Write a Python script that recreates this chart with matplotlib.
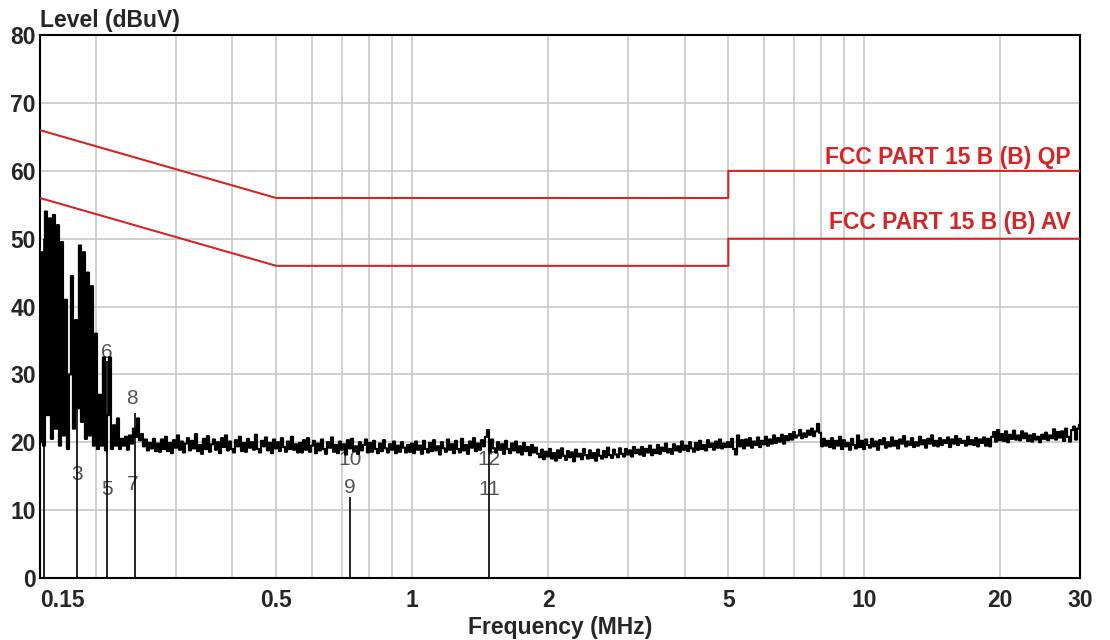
import numpy as np
import matplotlib
matplotlib.use("Agg")
import matplotlib.pyplot as plt
from matplotlib.transforms import blended_transform_factory

plt.rcParams['font.family'] = ['Liberation Sans', 'DejaVu Sans']

# Messkurve (dBuV), log-Sweep 0.15 - 30 MHz
lvl_spikes = [20.0, 48.0, 19.5, 54.0, 24.0, 53.0, 20.5, 53.5, 22.0, 52.0,
              19.5, 49.5, 21.0, 41.0, 19.0, 30.0, 44.5, 22.0, 38.0, 25.0,
              49.0, 23.0, 48.0, 20.5, 45.0, 21.0, 43.0, 19.5, 36.0, 19.0,
              27.0, 19.5, 32.5, 18.8, 24.0, 32.5, 19.0, 22.5, 19.5, 23.5,
              19.0, 20.5, 19.5, 20.8, 18.9, 21.0, 19.8, 22.0, 20.8, 23.5,
              20.3, 21.2, 19.4, 20.4, 18.8, 19.9, 19.1, 20.5, 18.7, 19.8]
lvl_030 = [18.6, 20.4, 19.0, 20.8, 18.7, 19.9, 18.4, 20.3, 19.2, 21.0,
           18.9, 20.1, 18.5, 19.8, 20.6, 18.8, 20.2, 19.1, 21.2, 18.7,
           19.6, 18.3, 20.5, 19.0, 20.9, 18.6, 19.7, 20.4, 18.9, 20.0,
           18.4, 20.6, 19.3, 21.0, 18.8, 20.1, 19.0, 18.5, 20.3, 19.4,
           20.8, 18.7, 19.9, 18.6, 20.5, 19.2, 20.0, 18.9, 21.1, 19.0,
           18.5, 20.2, 19.4, 20.7, 18.8, 19.9, 18.4, 20.4, 19.1, 20.0,
           18.7, 20.6, 19.3, 18.6, 20.1, 19.0, 20.8, 18.9, 19.7, 18.5]
lvl_050 = [19.9, 18.5, 20.3, 18.9, 20.6, 18.6, 19.5, 20.2, 18.4, 19.8,
           18.8, 20.4, 19.0, 18.3, 20.0, 19.2, 20.7, 18.6, 19.6, 18.4,
           20.1, 18.9, 19.7, 18.2, 20.3, 19.1, 20.5, 18.7, 19.4, 18.3,
           20.0, 18.8, 19.6, 20.4, 18.5, 19.9, 18.6, 20.2, 19.0, 18.4,
           19.8, 18.7, 20.3, 19.1, 18.5, 19.7, 18.9, 20.1, 18.4, 19.5,
           18.6, 20.0, 19.2, 18.5, 19.6]
lvl_100 = [18.6, 19.8, 18.4, 20.1, 18.9, 19.5, 18.3, 20.2, 19.0, 18.5,
           19.9, 18.7, 20.3, 18.8, 19.4, 18.2, 20.0, 19.1, 18.6, 20.4,
           18.9, 19.7, 18.4, 20.2, 19.0, 18.5, 20.5, 18.8, 19.6, 18.3,
           20.1, 19.2, 20.6, 18.7, 19.8, 18.9, 20.3, 19.4, 20.8, 21.8,
           18.6, 20.4, 19.1, 18.5, 20.0, 18.9, 19.7, 18.3, 20.2, 19.0,
           18.4, 19.8, 18.8, 20.1, 18.5, 19.4, 18.2, 19.9, 18.7, 19.3,
           18.1, 19.6, 18.5, 19.2, 18.3]
lvl_200 = [17.8, 18.9, 17.5, 18.6, 17.9, 19.0, 17.6, 18.4, 17.3, 18.8,
           17.7, 19.1, 18.0, 17.4, 18.7, 17.8, 18.5, 17.2, 18.9, 17.9,
           18.3, 17.5, 19.0, 18.1, 17.6, 18.8, 17.7, 18.4, 17.3, 18.9,
           18.0, 17.6, 18.7, 17.8, 19.2, 18.1, 17.7, 18.9, 18.2, 17.8,
           19.1, 18.3, 17.9, 19.0, 18.2, 18.8, 17.9, 19.3, 18.4, 18.9]
lvl_320 = [18.2, 19.3, 18.0, 19.0, 18.5, 19.5, 18.1, 18.9, 18.4, 19.6,
           18.3, 19.2, 18.7, 19.8, 18.5, 19.0, 18.3, 19.7, 18.8, 19.4,
           18.6, 20.1, 18.9, 19.5, 18.7, 20.0, 19.1, 18.6, 19.9, 18.9,
           20.2, 19.0, 19.6, 18.8, 20.3, 19.3, 19.8, 18.9, 20.1, 19.2,
           20.4, 19.1, 19.8, 19.3, 20.0]
lvl_500 = [19.3, 20.5, 19.0, 18.2, 21.0, 19.4, 20.3, 19.1, 20.4, 19.5,
           20.6, 19.2, 20.1, 19.6, 20.7, 19.3, 20.2, 19.7, 20.8, 19.5,
           20.4, 19.8, 21.0, 19.9, 20.6, 20.1, 21.1, 19.8, 20.9, 20.3]
lvl_700 = [21.2, 20.4, 21.5, 20.7, 21.0, 21.8, 20.6, 21.3, 20.8, 21.7,
           21.1, 22.0, 20.9, 21.6, 22.7, 21.4, 19.4, 20.5, 19.5, 20.2]
lvl_850 = [19.3, 20.6, 19.1, 20.2, 19.5, 20.8, 19.0, 20.3, 19.4, 19.9,
           18.9, 20.5, 19.6, 19.1, 21.0, 19.3, 20.2, 19.0, 20.4, 19.6,
           19.2, 20.5, 19.4, 20.1, 18.9, 20.3, 19.7, 20.6, 19.2, 20.0,
           19.4, 20.7, 19.5, 20.2, 19.1, 20.4, 19.8, 20.9, 19.4, 20.1,
           19.6, 20.6, 19.3, 20.0, 19.5, 20.8, 19.7, 20.3, 19.2, 20.5,
           19.8, 21.0, 19.5, 20.2, 19.4, 20.6, 19.6, 20.3, 19.9, 20.7,
           19.3, 20.4, 19.8, 20.9, 19.6, 20.5, 19.9, 20.2, 19.5, 20.8,
           19.7, 20.3, 19.6, 20.6, 19.4, 20.4, 19.9, 20.7, 19.5, 20.5]
lvl_2000 = [19.4, 20.8, 21.5, 20.1, 21.8, 20.3, 21.2, 20.2, 21.6, 20.0,
            21.1, 20.5, 21.7, 20.4, 21.0, 20.3, 21.6, 20.6, 21.3, 20.2,
            21.0, 20.1, 21.2, 20.4, 20.8, 20.0, 21.1, 20.5, 21.4, 20.3,
            21.0, 20.6, 21.9, 20.4, 21.5, 20.7, 21.6, 20.2, 22.0, 20.8,
            20.1, 21.8, 22.3, 20.4, 22.0, 22.6]

level = (lvl_spikes + lvl_030 + lvl_050 + lvl_100 + lvl_200 + lvl_320
         + lvl_500 + lvl_700 + lvl_850 + lvl_2000)
f_start, f_stop = 0.15, 30.0
freq = np.geomspace(f_start, f_stop, len(level))

# Grenzwerte FCC Part 15 B (Klasse B)
qp_f = [0.15, 0.5, 5.0, 5.0, 30.0]
qp_l = [66, 56, 56, 60, 60]
av_f = [0.15, 0.5, 5.0, 5.0, 30.0]
av_l = [56, 46, 46, 50, 50]

# Marker
mk_f = [0.153, 0.181, 0.211, 0.243, 0.727, 1.476]
mk_l = [50.0, 30.0, 32.0, 24.3, 12.0, 21.5]
lab_txt = ['4', '3', '5', '6', '7', '8', '9', '10', '11', '12']
lab_f = [0.182, 0.181, 0.211, 0.211, 0.241, 0.240, 0.727, 0.727, 1.476, 1.476]
lab_l = [31.1, 15.3, 13.1, 33.3, 13.8, 26.5, 13.3, 17.4, 13.1, 17.4]

major_f = [0.15, 0.5, 1, 2, 5, 10, 20, 30]
major_lab = ['0.15', '0.5', '1', '2', '5', '10', '20', '30']
minor_f = [0.2, 0.3, 0.4, 0.6, 0.7, 0.8, 0.9, 3, 4, 6, 7, 8, 9]

fig = plt.figure(figsize=(11.1, 6.4), dpi=100)
ax = fig.add_axes([0.036, 0.097, 0.937, 0.848])

red = '#d42626'
txt = '#262626'
fs = 16.5

ax.plot(qp_f, qp_l, color=red, lw=1.5, zorder=3)
ax.plot(av_f, av_l, color=red, lw=1.5, zorder=3)

for t, f, l in zip(lab_txt, lab_f, lab_l):
    ax.text(f, l, t, color='#555555', fontsize=15, ha='center', va='center', zorder=1)

ax.vlines(mk_f, 0, mk_l, color='black', lw=1.2, zorder=4)
ax.plot(freq, level, color='black', lw=1.6, drawstyle='steps-mid', zorder=5)

tr = blended_transform_factory(ax.transAxes, ax.transData)
ax.text(0.991, 62.0, 'FCC PART 15 B (B) QP', transform=tr, color=red,
        fontsize=fs, fontweight='bold', ha='right', va='center')
ax.text(0.991, 52.4, 'FCC PART 15 B (B) AV', transform=tr, color=red,
        fontsize=fs, fontweight='bold', ha='right', va='center')

ax.set_xscale('log')
ax.set_xlim(f_start, f_stop)
ax.set_ylim(0, 80)
ax.set_xticks(major_f)
ax.set_xticklabels(major_lab)
ax.set_xticks(minor_f, minor=True)
ax.set_xticklabels([], minor=True)
ax.set_yticks(range(0, 81, 10))
ax.tick_params(axis='both', which='both', length=0, labelsize=fs, colors=txt)
ax.tick_params(axis='x', pad=8)
ax.tick_params(axis='y', pad=3)
for lab in ax.get_xticklabels() + ax.get_yticklabels():
    lab.set_fontweight('bold')
ax.get_xticklabels()[0].set_horizontalalignment('left')

ax.grid(True, which='both', color='#c8c8c8', lw=1.2)
ax.set_axisbelow(True)
for s in ax.spines.values():
    s.set_color('black')
    s.set_linewidth(1.5)

ax.set_xlabel('Frequency (MHz)', fontsize=fs, fontweight='bold', color=txt, labelpad=3)
ax.text(0.0, 1.0147, 'Level (dBuV)', transform=ax.transAxes, fontsize=fs,
        fontweight='bold', color=txt, ha='left', va='baseline')

fig.savefig('out.png', dpi=100, facecolor='white')
